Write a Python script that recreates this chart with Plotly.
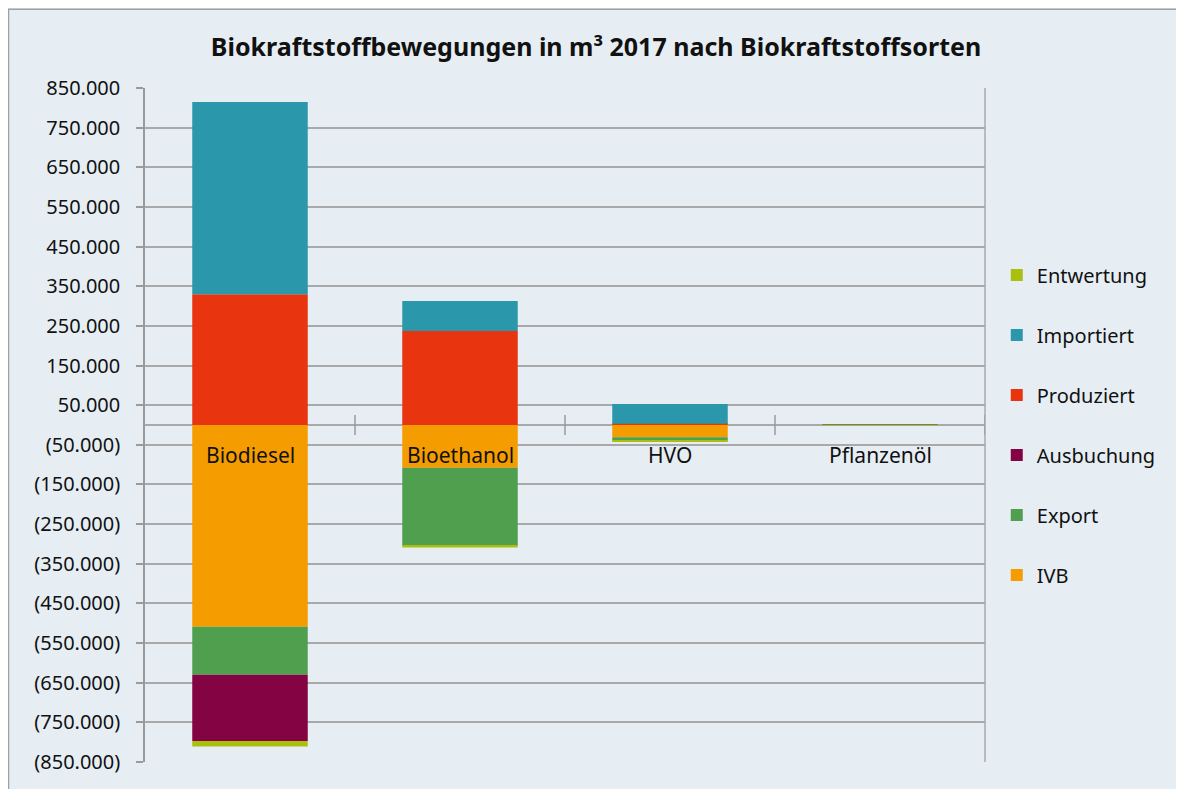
import plotly.graph_objects as go

categories = ["Biodiesel", "Bioethanol", "HVO", "Pflanzenöl"]

# values in m³ (negative = outflows)
ivb = [-509000, -108000, -31000, -300]
export = [-121000, -197000, -9000, 0]
ausbuchung = [-167000, 0, 0, 0]
produziert = [330000, 237000, 3000, 0]
importiert = [485000, 76000, 50000, 300]
entwertung = [-14000, -4000, -2000, 0]

tick_vals = [850000, 750000, 650000, 550000, 450000, 350000, 250000, 150000, 50000,
             -50000, -150000, -250000, -350000, -450000, -550000, -650000, -750000, -850000]
tick_text = ["850.000", "750.000", "650.000", "550.000", "450.000", "350.000", "250.000",
             "150.000", "50.000", "(50.000)", "(150.000)", "(250.000)", "(350.000)",
             "(450.000)", "(550.000)", "(650.000)", "(750.000)", "(850.000)"]

# (name, values, colour, legend rank)
series = [
    ("IVB", ivb, "#f59d00", 6),
    ("Export", export, "#4f9f4f", 5),
    ("Ausbuchung", ausbuchung, "#840342", 4),
    ("Produziert", produziert, "#e83510", 3),
    ("Importiert", importiert, "#2b97aa", 2),
    ("Entwertung", entwertung, "#a9c00e", 1),
]

fig = go.Figure()
for name, vals, col, rank in series:
    fig.add_trace(go.Bar(
        x=categories, y=vals, name=name, legendgroup=name, legendrank=rank,
        marker=dict(color=col, line=dict(width=0)),
        hovertemplate="%{x}: %{y}<extra>" + name + "</extra>",
    ))

bg = "#e6eef4"
FONT = "'Noto Sans', 'Open Sans', sans-serif"
W, H = 1200, 800
L, T = 137, 80
PW, PH = 840, 674
fig.update_layout(
    width=W, height=H,
    barmode="relative", bargap=0.45,
    paper_bgcolor=bg, plot_bgcolor=bg,
    margin=dict(l=L, r=W - L - PW, t=T, b=H - T - PH),
    font=dict(family=FONT, size=18, color="#111111"),
    title=dict(text="<b>Biokraftstoffbewegungen in m³ 2017 nach Biokraftstoffsorten</b>",
               x=588 / W, xanchor="center", y=1 - 39 / H, yanchor="middle",
               font=dict(size=25, color="#111111")),
    showlegend=True,
    legend=dict(x=1.014, y=0.5, xanchor="left", yanchor="middle",
                traceorder="grouped", tracegroupgap=31,
                font=dict(size=20), bgcolor="rgba(0,0,0,0)"),
    xaxis=dict(showticklabels=False, showgrid=False, ticks="", showline=False,
               zeroline=False, range=[-0.5, 3.5], fixedrange=True),
    yaxis=dict(range=[-850000, 850000], tickvals=tick_vals, ticktext=tick_text,
               showgrid=True, gridcolor="#a9a9a9", gridwidth=1.5,
               zeroline=True, zerolinecolor="#a9a9a9", zerolinewidth=1.5,
               showline=True, linecolor="#9a9a9a", linewidth=1.5,
               ticks="outside", ticklen=7, tickcolor="#9a9a9a", tickwidth=1.5,
               ticklabelstandoff=12,
               tickfont=dict(size=20), fixedrange=True),
    shapes=[
        dict(type="line", xref="paper", yref="paper", x0=1, x1=1, y0=0, y1=1,
             line=dict(color="#a9a9a9", width=1.5)),
        dict(type="rect", xref="paper", yref="paper", x0=-0.1625, x1=1.5, y0=-0.3, y1=1.117,
             line=dict(color="#a0a0a0", width=1.5), fillcolor="rgba(0,0,0,0)", layer="below"),
    ] + [
        dict(type="line", xref="x", yref="y", x0=i + 0.5, x1=i + 0.5, y0=-25000, y1=25000,
             line=dict(color="#9a9a9a", width=1.5))
        for i in range(len(categories))
    ],
    annotations=[
        dict(x=c, y=0, xref="x", yref="y", text=c, showarrow=False,
             yanchor="top", yshift=-14, font=dict(size=21, color="#111111"))
        for c in categories
    ],
)

fig.write_html(
    "out.html",
    post_script="document.documentElement.style.overflow='hidden';document.body.style.overflow='hidden';",
)
